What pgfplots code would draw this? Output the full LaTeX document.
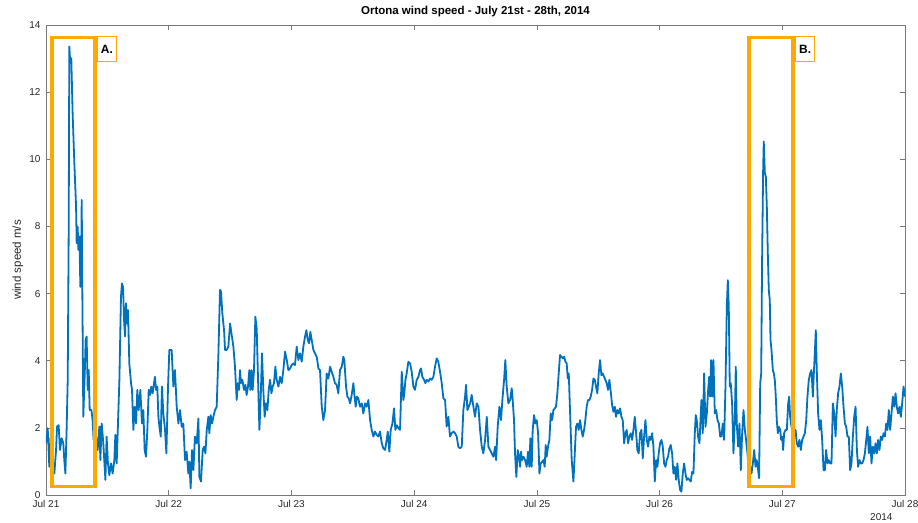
\documentclass[border=0pt]{standalone}
\usepackage{fontspec}
\setmainfont{Liberation Sans}
\usepackage{pgfplots}
\pgfplotsset{compat=1.18}
\definecolor{mblue}{RGB}{0,114,189}
\definecolor{morange}{RGB}{255,168,0}
\definecolor{axgray}{RGB}{120,120,120}
\definecolor{txt}{RGB}{38,38,38}
\begin{document}
\begin{tikzpicture}
\path[use as bounding box] (-46pt,-27pt) rectangle (872pt,495pt);
\begin{axis}[
  scale only axis, width=859pt, height=470pt,
  xmin=0, xmax=7, ymin=0, ymax=14,
  xtick={0,1,2,3,4,5,6,7},
  xticklabels={Jul 21,Jul 22,Jul 23,Jul 24,Jul 25,Jul 26,Jul 27,Jul 28},
  ytick={0,2,4,6,8,10,12,14},
  tick pos=both, tick align=inside,
  major tick length=5pt,
  axis line style={axgray, line width=0.6pt},
  every tick/.style={axgray, line width=0.6pt},
  tick label style={font=\fontsize{10}{12}\selectfont, text=txt},
  /pgf/number format/assume math mode=true,
  yticklabel style={xshift=-2pt},
  xticklabel style={yshift=-2pt},
  ylabel={wind speed m/s},
  ylabel style={at={(axis description cs:-0.0326,0.5)}, anchor=center, font=\fontsize{11.5}{13}\selectfont, text=txt},
  title={Ortona wind speed - July 21st - 28th, 2014},
  title style={at={(axis description cs:0.5,1)}, anchor=center, yshift=7pt, font=\bfseries\fontsize{11.5}{13}\selectfont, text=black},
  clip=true,
]
\addplot[mblue, line width=1.8pt, line join=round] coordinates {
(0.000,1.54)(0.014,1.99)(0.027,0.84)(0.041,1.94)(0.054,0.94)(0.068,0.64)(0.082,1.34)(0.090,2.04)(0.103,2.08)(0.114,1.34)
(0.128,1.69)(0.141,1.54)(0.149,1.04)(0.158,0.64)(0.168,1.94)(0.177,3.42)(0.185,7.89)(0.190,13.36)(0.198,12.86)(0.206,13.01)
(0.217,11.37)(0.231,9.88)(0.245,8.59)(0.250,7.50)(0.258,7.99)(0.264,7.30)(0.272,7.70)(0.280,6.20)(0.285,6.30)(0.291,8.79)
(0.296,6.11)(0.304,2.33)(0.315,3.52)(0.323,4.62)(0.331,4.72)(0.340,3.13)(0.348,3.72)(0.356,2.53)(0.370,2.53)(0.380,2.23)
(0.388,1.64)(0.397,2.13)(0.408,1.74)(0.421,1.34)(0.435,2.04)(0.443,1.04)(0.454,2.13)(0.467,1.54)(0.484,0.45)(0.494,1.74)
(0.505,0.94)(0.516,0.59)(0.530,0.94)(0.543,0.64)(0.557,1.04)(0.565,1.79)(0.576,0.94)(0.587,2.18)(0.598,3.42)(0.611,5.91)
(0.619,6.30)(0.628,6.20)(0.636,5.21)(0.644,4.72)(0.652,5.71)(0.660,5.11)(0.668,5.51)(0.679,3.92)(0.693,3.33)(0.701,3.13)
(0.712,1.94)(0.723,2.63)(0.734,2.13)(0.744,3.13)(0.755,2.53)(0.769,3.13)(0.782,2.13)(0.793,2.53)(0.804,1.34)(0.815,1.14)
(0.826,1.94)(0.837,3.13)(0.848,2.98)(0.858,3.23)(0.869,3.03)(0.880,3.33)(0.888,3.52)(0.897,3.13)(0.907,3.23)(0.916,2.33)
(0.924,2.04)(0.935,1.74)(0.945,3.23)(0.956,2.43)(0.970,1.94)(0.981,1.24)(0.994,3.18)(1.005,4.32)
(1.024,4.32)(1.038,3.23)(1.051,3.72)(1.065,2.63)(1.079,2.13)(1.092,2.53)(1.106,2.03)(1.119,2.13)(1.133,1.04)(1.146,1.29)
(1.160,0.64)(1.168,0.99)(1.179,0.20)(1.190,1.34)(1.201,0.74)(1.214,1.74)(1.228,1.54)(1.242,2.28)(1.250,0.54)(1.263,0.40)
(1.277,1.34)(1.288,1.44)(1.299,1.24)(1.310,1.94)(1.323,2.33)(1.331,1.84)(1.342,2.38)(1.353,2.13)(1.364,2.33)(1.377,2.53)
(1.391,2.63)(1.405,4.22)(1.418,6.11)(1.426,6.06)(1.437,5.41)(1.451,4.91)(1.459,4.32)(1.472,4.32)(1.486,4.42)(1.500,5.11)
(1.513,4.77)(1.527,4.42)(1.540,3.82)(1.554,2.83)(1.562,3.33)(1.573,3.13)(1.581,3.72)(1.589,3.33)(1.600,3.43)(1.614,3.13)
(1.625,3.28)(1.635,2.98)(1.646,3.23)(1.657,3.72)(1.665,3.13)(1.676,3.72)(1.684,3.13)(1.695,3.72)(1.706,5.31)(1.717,4.96)
(1.728,3.43)(1.739,1.94)(1.750,2.93)(1.760,4.22)(1.771,3.13)(1.782,2.33)(1.793,2.73)(1.804,2.53)(1.815,3.13)(1.826,3.43)
(1.837,3.03)(1.847,3.23)(1.858,3.33)(1.869,3.82)(1.880,3.43)(1.894,3.23)(1.907,3.52)(1.921,3.33)(1.934,3.72)(1.948,4.27)
(1.962,4.02)(1.975,3.72)(1.989,3.77)(2.002,3.87)(2.016,3.92)(2.029,3.87)(2.043,4.42)(2.057,4.02)(2.070,4.22)(2.084,3.97)
(2.097,4.42)(2.111,4.72)(2.122,4.91)(2.133,4.62)(2.144,4.52)(2.154,4.86)(2.165,4.62)(2.179,4.32)(2.192,4.22)(2.206,4.12)
(2.220,3.77)(2.233,3.72)(2.247,2.63)(2.260,2.23)(2.274,2.53)(2.287,3.62)(2.301,3.47)(2.315,3.82)(2.328,3.67)(2.342,3.52)
(2.355,3.33)(2.369,3.28)(2.382,3.03)(2.396,3.72)(2.410,3.82)(2.423,4.12)(2.431,4.02)(2.445,3.23)(2.456,2.93)(2.467,2.88)
(2.478,2.73)(2.491,2.98)(2.505,3.33)(2.513,2.98)(2.524,2.63)(2.532,2.93)(2.545,2.88)(2.559,2.63)(2.573,2.73)(2.586,2.43)
(2.600,2.73)(2.613,2.63)(2.627,2.83)(2.641,2.23)(2.654,1.94)(2.668,1.74)(2.681,1.89)(2.695,1.79)(2.708,1.74)(2.722,1.89)
(2.736,1.54)(2.749,1.39)(2.763,1.34)(2.776,1.64)(2.785,1.89)(2.798,1.29)(2.809,1.94)(2.823,2.13)(2.836,2.58)(2.847,1.94)
(2.858,2.08)(2.872,1.99)(2.885,1.94)(2.899,3.67)(2.912,2.83)(2.920,3.03)(2.929,3.43)(2.939,3.62)(2.953,3.97)(2.967,3.92)
(2.980,3.67)(2.994,3.23)(3.007,3.13)(3.021,3.43)(3.035,3.52)(3.048,3.72)(3.056,3.77)(3.067,3.52)(3.081,3.43)(3.092,3.33)
(3.102,3.43)(3.116,3.38)(3.130,3.47)(3.143,3.43)(3.157,3.52)(3.170,3.82)(3.184,4.07)(3.197,3.97)(3.211,3.67)(3.225,3.33)
(3.238,2.88)(3.252,2.83)(3.265,2.04)(3.279,2.33)(3.292,1.74)(3.306,1.84)(3.320,1.89)(3.333,1.84)(3.347,1.74)(3.360,1.44)
(3.374,1.39)(3.388,1.44)(3.401,2.53)(3.415,2.93)(3.423,3.28)(3.434,2.53)(3.445,2.63)(3.456,2.73)(3.469,2.98)(3.483,2.63)
(3.496,2.33)(3.510,2.73)(3.524,2.63)(3.537,1.94)(3.551,1.44)(3.564,1.24)(3.578,1.64)(3.592,2.33)(3.605,1.44)(3.619,1.34)
(3.632,1.24)(3.646,1.14)(3.660,1.44)(3.668,1.04)(3.681,2.04)(3.695,2.63)
(3.708,2.23)(3.719,2.83)(3.733,3.43)(3.743,4.02)(3.754,3.23)(3.768,2.73)(3.782,2.83)(3.795,3.18)(3.803,2.83)(3.814,2.23)
(3.822,1.24)(3.833,0.54)(3.844,1.34)(3.855,1.14)(3.863,0.84)(3.871,1.29)(3.879,1.04)(3.890,1.14)(3.904,1.04)(3.917,0.84)
(3.928,1.29)(3.939,0.84)(3.947,1.69)(3.958,0.84)(3.966,1.94)(3.977,2.38)(3.988,2.13)(3.999,2.23)(4.010,1.84)(4.021,0.64)
(4.031,0.94)(4.042,0.99)(4.053,1.04)(4.064,0.84)(4.072,1.49)(4.080,1.14)(4.091,1.44)(4.102,1.64)(4.113,2.43)(4.124,2.23)
(4.135,2.53)(4.146,2.58)(4.156,2.63)(4.167,3.03)(4.178,3.62)(4.189,4.17)(4.200,4.12)(4.211,4.07)(4.222,4.12)(4.233,3.97)
(4.243,3.92)(4.252,3.47)(4.260,3.62)(4.271,2.43)(4.284,1.04)(4.298,0.40)(4.309,1.24)(4.319,2.03)(4.330,2.13)(4.341,1.94)
(4.352,2.23)(4.363,1.94)(4.374,1.74)(4.385,1.94)(4.395,2.23)(4.406,2.63)(4.417,2.83)(4.428,2.83)(4.439,2.93)(4.450,3.13)
(4.461,3.47)(4.472,3.43)(4.482,3.23)(4.493,3.03)(4.504,3.62)(4.515,4.02)(4.526,3.57)(4.537,3.62)(4.548,3.52)(4.558,3.43)
(4.569,3.33)(4.580,3.13)(4.591,3.43)(4.602,3.08)(4.613,2.68)(4.624,2.48)(4.635,2.63)(4.645,2.33)(4.656,2.53)(4.667,2.43)
(4.678,2.58)(4.689,2.33)(4.700,2.23)(4.711,1.54)(4.722,1.84)(4.732,1.94)(4.743,1.54)(4.754,1.74)(4.765,1.84)(4.776,1.64)
(4.787,1.94)(4.798,2.33)(4.809,1.84)(4.819,1.34)(4.830,1.24)(4.841,1.84)(4.852,1.94)(4.863,1.09)(4.874,1.74)(4.885,2.23)
(4.896,1.64)(4.906,1.44)(4.917,1.74)(4.928,1.64)(4.939,1.84)(4.950,1.44)(4.961,0.40)(4.972,1.04)(4.982,0.84)(4.993,1.24)
(5.004,1.54)(5.015,1.64)(5.026,1.44)(5.037,0.94)(5.048,0.84)(5.058,1.04)(5.069,1.14)(5.080,1.39)(5.091,1.49)(5.102,1.24)
(5.113,0.64)(5.124,0.84)(5.135,0.45)(5.145,0.94)(5.156,0.45)(5.167,0.15)(5.178,0.10)(5.189,0.64)(5.200,0.94)(5.211,0.64)
(5.221,0.45)(5.232,0.50)(5.243,0.45)(5.254,0.40)(5.265,0.69)(5.276,0.64)(5.287,1.84)(5.295,2.38)(5.303,2.23)(5.314,1.74)
(5.325,1.54)(5.341,2.83)(5.352,1.84)(5.363,3.62)(5.374,2.03)(5.385,2.43)(5.396,3.13)(5.404,3.52)(5.412,2.93)(5.420,4.02)
(5.428,2.93)(5.439,4.02)(5.450,2.43)(5.461,2.53)(5.472,2.23)(5.483,2.13)(5.494,1.74)(5.504,1.74)(5.515,2.13)(5.526,1.64)
(5.537,3.23)(5.548,5.61)(5.556,6.40)(5.564,5.61)(5.572,3.23)(5.580,3.33)(5.591,2.73)(5.602,1.24)(5.613,2.23)(5.621,3.82)
(5.629,2.13)(5.640,1.44)(5.651,2.13)(5.662,0.74)(5.673,1.84)(5.684,2.53)(5.695,1.94)(5.705,1.64)(5.716,1.24)(5.727,0.64)
(5.738,0.84)(5.749,0.64)(5.760,0.94)(5.771,1.34)(5.782,0.84)(5.792,1.04)(5.803,0.74)(5.811,0.50)(5.820,3.33)(5.828,3.62)
(5.836,7.20)(5.844,9.68)(5.849,10.53)(5.858,9.58)(5.866,9.48)(5.874,8.59)(5.882,7.20)(5.890,6.11)(5.898,5.81)(5.904,4.62)
(5.912,4.32)(5.923,3.72)(5.931,3.62)(5.939,3.43)(5.947,2.93)(5.955,2.23)(5.964,1.84)(5.972,2.03)(5.983,1.94)(5.991,1.64)
(5.999,1.74)(6.007,1.34)(6.015,1.84)(6.026,1.94)(6.037,1.94)(6.048,2.73)(6.056,2.93)(6.064,2.33)(6.075,2.03)(6.091,1.84)
(6.108,1.94)(6.118,1.54)(6.129,1.44)(6.140,1.64)(6.151,1.34)(6.162,1.64)(6.173,1.74)(6.184,1.84)(6.195,2.23)(6.205,2.93)
(6.216,3.43)(6.227,3.62)(6.238,3.72)(6.249,2.93)(6.257,3.62)(6.265,4.22)(6.273,4.91)(6.281,3.72)(6.292,2.43)(6.303,1.94)
(6.314,2.23)(6.325,1.64)(6.336,0.74)(6.347,0.74)(6.357,1.34)(6.368,0.94)(6.379,1.04)(6.390,0.94)(6.401,0.94)(6.412,2.73)
(6.423,2.43)(6.434,1.74)(6.444,2.53)(6.455,3.03)(6.466,3.23)(6.477,3.62)(6.488,3.23)(6.499,2.63)(6.510,2.13)(6.521,2.03)
(6.531,1.74)(6.542,1.74)(6.553,0.74)(6.564,0.94)(6.575,1.74)(6.586,2.33)(6.597,2.63)(6.608,1.34)(6.618,0.84)(6.629,1.04)
(6.640,0.94)(6.651,0.94)(6.662,1.04)(6.673,1.24)(6.684,1.64)(6.694,2.03)(6.705,1.24)(6.716,1.74)(6.727,0.94)(6.738,1.44)
(6.749,1.24)(6.760,1.54)(6.770,1.24)(6.781,1.64)(6.792,1.34)(6.803,1.74)(6.814,1.64)(6.825,1.84)(6.836,1.74)(6.847,2.13)
(6.857,1.94)(6.868,2.53)(6.879,1.94)(6.890,2.43)(6.901,2.93)(6.912,2.63)(6.923,3.03)(6.933,2.63)(6.944,2.43)(6.955,2.63)
(6.966,2.33)(6.977,2.73)(6.988,3.23)(7.000,2.93)
};
% highlight boxes
\addplot[morange, line width=3.6pt, line join=miter] coordinates {(0.047,0.25)(0.399,0.25)(0.399,13.63)(0.047,13.63)(0.047,0.25)} -- cycle;
\addplot[morange, line width=3.6pt, line join=miter] coordinates {(5.727,0.25)(6.088,0.25)(6.088,13.63)(5.727,13.63)(5.727,0.25)} -- cycle;
\node[draw=morange, line width=1.6pt, fill=white, anchor=north west, minimum width=19pt, minimum height=25pt, inner sep=1pt, font=\bfseries\fontsize{12}{14}\selectfont] at (axis cs:0.413,13.68) {A.};
\node[draw=morange, line width=1.6pt, fill=white, anchor=north west, minimum width=19pt, minimum height=25pt, inner sep=1pt, font=\bfseries\fontsize{12}{14}\selectfont] at (axis cs:6.102,13.68) {B.};
\end{axis}
\node[anchor=base east, font=\fontsize{10}{12}\selectfont, text=txt] at (850pt,-25pt) {2014};
\end{tikzpicture}
\end{document}
